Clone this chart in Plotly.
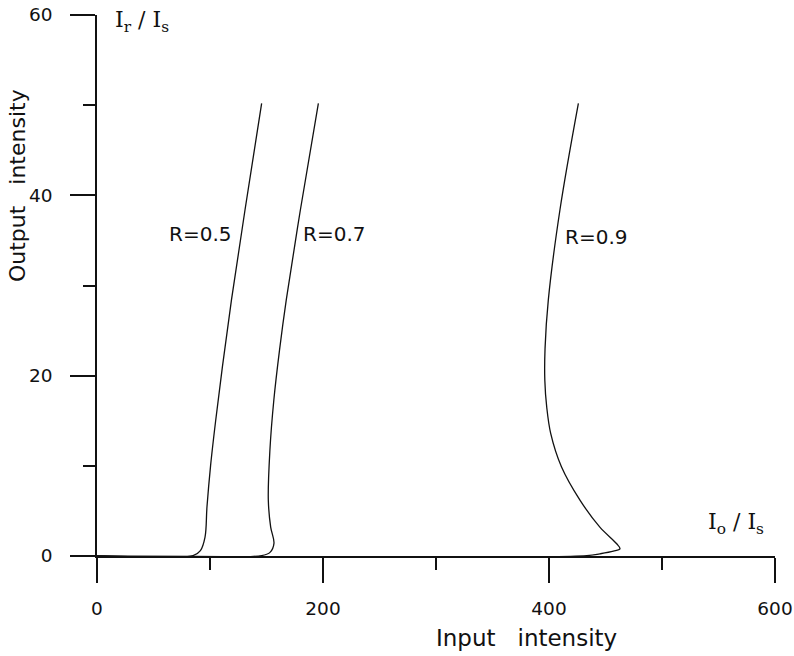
import plotly.graph_objects as go

# Curve data (input intensity I0/Is, output intensity Ir/Is)
r05_x = [0, 85, 91.5, 95.6, 97.3, 100.5, 105, 111, 119, 131, 145.7]
r05_y = [0, 0.05, 0.6, 2.1, 5.4, 10, 15, 21, 28.4, 38.4, 50.2]

r07_x = [0, 145.7, 153.1, 156.6, 153.7, 151.6, 153, 156.5, 161.5, 167.5, 180, 195.9]
r07_y = [0, 0.05, 0.4, 1.4, 3.2, 6.2, 11.7, 17.3, 22.8, 28.4, 38.4, 50.2]

r09_x = [0, 433.4, 445, 457, 462.8, 459.9, 445, 427.4, 411, 401.5, 398, 396.3, 396.5, 399.4, 409.7, 426]
r09_y = [0, 0.05, 0.24, 0.53, 0.8, 1.36, 3.2, 6.2, 9.9, 13.6, 16.5, 19.5, 23, 28.4, 38.4, 50.2]

x_ticks = [0, 200, 400, 600]
x_minor = [100, 300, 500]
y_ticks = [0, 20, 40, 60]
y_minor = [10, 30, 50]

labels = ["R=0.5", "R=0.7", "R=0.9"]
label_x = [91, 210, 442]
label_y = [35.7, 35.7, 35.4]

FONT = "DejaVu Sans"

fig = go.Figure()
for xs, ys in [(r05_x, r05_y), (r07_x, r07_y), (r09_x, r09_y)]:
    fig.add_trace(go.Scatter(x=xs, y=ys, mode="lines",
                             line=dict(color="#111", width=1.3, shape="spline", smoothing=1.0),
                             showlegend=False, hoverinfo="skip", cliponaxis=False))

for t, x, y in zip(labels, label_x, label_y):
    fig.add_annotation(x=x, y=y, text=t, showarrow=False, xanchor="center", yanchor="middle",
                       font=dict(family=FONT, size=20, color="#111"))

fig.add_annotation(x=14, y=59.3, text="I<sub>r</sub> / I<sub>s</sub>", showarrow=False,
                   xanchor="left", yanchor="middle",
                   font=dict(family="DejaVu Serif", size=22, color="#111"))
fig.add_annotation(x=539, y=3.6, text="I<sub>o</sub> / I<sub>s</sub>", showarrow=False,
                   xanchor="left", yanchor="middle",
                   font=dict(family="DejaVu Serif", size=22, color="#111"))

fig.add_annotation(xref="paper", yref="paper", x=0.633, y=-0.152, text="Input   intensity",
                   showarrow=False, xanchor="center", yanchor="middle",
                   font=dict(family=FONT, size=23, color="#111"))
fig.add_annotation(xref="paper", yref="paper", x=-0.117, y=0.685, text="Output   intensity",
                   showarrow=False, xanchor="center", yanchor="middle", textangle=-90,
                   font=dict(family=FONT, size=22, color="#111"))

axis_common = dict(showgrid=False, zeroline=False, showline=True, linecolor="#111",
                   linewidth=1.5, ticks="outside", ticklen=25, tickwidth=1.5,
                   tickcolor="#111", automargin=False, ticklabeloverflow="allow",
                   tickfont=dict(family=FONT, size=18.5, color="#111"))

fig.update_xaxes(range=[0, 600], tickmode="array", tickvals=x_ticks,
                 ticktext=[str(v) for v in x_ticks], ticklabelstandoff=10,
                 minor=dict(tickmode="array", tickvals=x_minor, ticks="outside", ticklen=12,
                            tickwidth=1.5, tickcolor="#111"),
                 **axis_common)
fig.update_yaxes(range=[0, 60], tickmode="array", tickvals=y_ticks,
                 ticktext=[str(v) for v in y_ticks], ticklabelstandoff=14,
                 minor=dict(tickmode="array", tickvals=y_minor, ticks="outside", ticklen=12,
                            tickwidth=1.5, tickcolor="#111"),
                 **axis_common)

fig.update_layout(width=794, height=656, plot_bgcolor="white", paper_bgcolor="white",
                  margin=dict(l=97, r=19, t=15, b=100))

fig.write_html("out.html", config={"displayModeBar": False},
               post_script="document.body.style.margin='0';document.body.style.overflow='hidden';")
